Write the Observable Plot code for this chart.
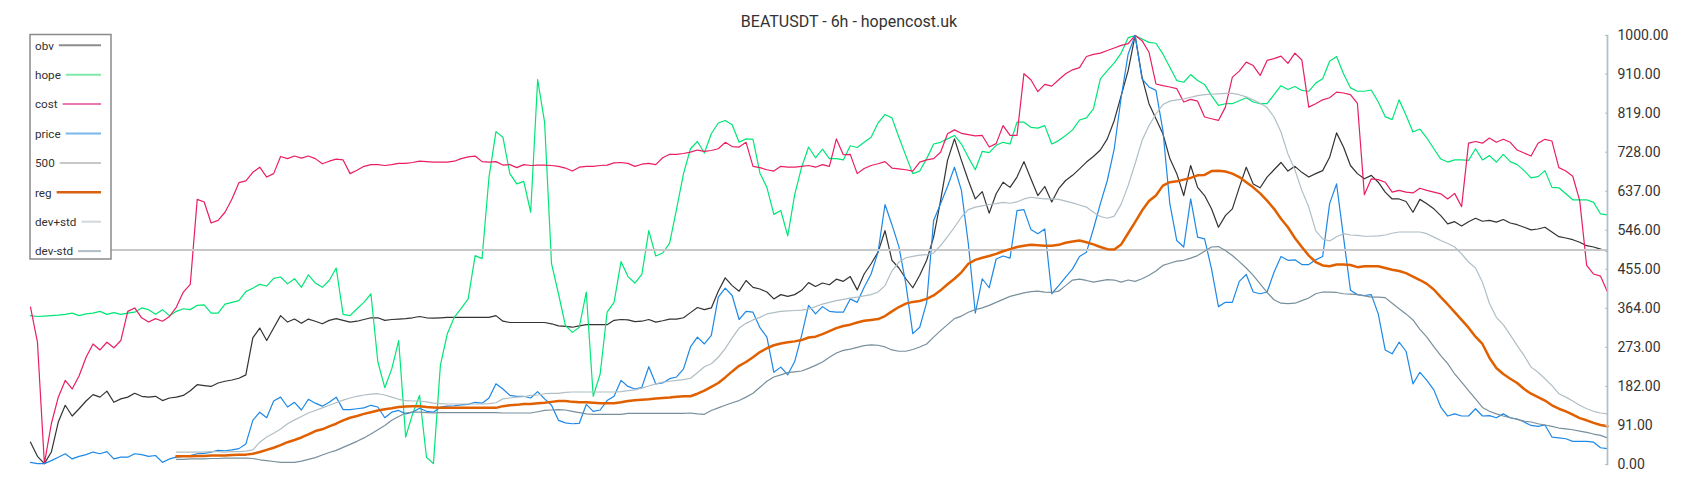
<!DOCTYPE html>
<html><head><meta charset="utf-8">
<script src="https://cdn.jsdelivr.net/npm/d3@7"></script>
<script src="https://cdn.jsdelivr.net/npm/@observablehq/plot@0.6"></script>
<style>
html,body{margin:0;padding:0;background:#fff;}
#chart{position:relative;width:1700px;height:500px;font-family:Roboto,sans-serif;}
</style></head><body><div id="chart"></div>
<script>
const title = "BEATUSDT - 6h - hopencost.uk";
const seriesNames = ["obv","hope","cost","price","500","reg","dev+std","dev-std"];
const lineColors = ["#333333","#00e676","#e91e63","#1e88e5","#c8c8c8","#e06000","#b0bec5","#78909c"];
const legendColors = ["#8c8c8c","#80e8a8","#e878b0","#78b8ec","#c8c8c8","#d86010","#d0d8dc","#b0bcc4"];
const yTicks = [0,91,182,273,364,455,546,637,728,819,910,1000];
const level = 500;

const obv = [52,19,2,29,99,138,113,130,148,163,157,171,145,153,157,166,159,157,159,149,
155,157,161,172,186,184,182,190,194,197,201,209,295,318,289,318,347,332,339,329,
339,334,328,336,340,336,332,334,338,342,342,336,338,339,340,342,345,342,341,342,
343,343,343,343,343,343,343,347,334,331,331,331,331,331,331,328,323,322,320,323,
326,326,326,326,336,338,337,333,334,338,332,335,339,339,342,354,366,361,365,404,
435,417,404,429,413,409,402,386,396,392,396,406,424,415,423,419,432,427,438,407,
444,468,495,545,476,458,433,412,441,476,530,615,709,759,709,662,619,636,586,631,
658,646,670,706,666,627,648,612,643,662,674,689,705,718,733,759,802,860,918,1000,
903,841,806,771,713,678,627,697,646,627,596,553,580,596,646,693,654,645,670,687,
704,684,695,681,670,678,685,716,773,740,697,678,666,674,658,635,619,619,613,588,
618,608,596,580,561,566,556,566,574,567,569,565,571,563,559,553,547,549,553,542,
531,528,524,518,510,507,502,497];

const hope = [347,345,346,347,348,350,353,347,351,353,357,350,354,350,353,355,365,361,350,361,
347,357,363,361,371,372,353,353,374,378,382,403,411,420,416,434,437,421,433,413,
442,423,413,429,458,350,347,363,378,398,239,179,223,289,64,118,161,17,2,231,
305,343,364,386,487,480,670,776,763,678,654,660,588,897,798,468,398,324,308,320,
402,159,211,355,378,473,438,423,443,545,486,493,516,596,678,736,753,726,771,796,
802,792,751,759,758,679,646,583,592,533,629,693,740,715,735,713,713,710,743,739,
751,763,796,816,808,763,720,678,684,713,747,751,759,767,747,716,687,730,727,744,
751,747,798,798,786,784,790,747,755,767,780,803,808,829,899,918,936,959,995,1000,
992,984,982,957,926,895,891,909,895,886,860,837,841,841,848,855,845,841,841,862,
883,874,881,872,870,889,899,940,951,911,878,870,870,873,845,811,804,850,814,775,
782,761,736,712,705,710,710,709,736,710,720,705,723,706,699,685,668,671,685,646,
645,631,617,617,617,611,584,582];

const cost = [367,285,2,95,157,196,176,207,250,281,267,285,272,289,357,365,342,332,340,334,
345,367,402,420,618,612,563,569,588,619,657,661,681,693,670,678,718,713,719,714,
719,713,701,707,712,710,678,686,695,699,699,697,699,702,702,704,707,706,705,705,
705,707,713,717,719,706,705,706,698,699,692,699,697,698,698,697,695,691,684,693,
695,695,697,698,703,704,702,695,700,702,699,715,723,723,725,728,733,730,732,736,
751,741,740,751,695,692,687,684,695,693,693,695,697,693,699,695,759,722,723,678,
690,697,701,706,691,689,687,684,705,710,713,728,771,780,772,769,766,767,740,748,
790,767,767,911,897,869,886,882,897,911,920,925,951,956,959,965,971,977,981,1000,
988,961,887,883,880,876,845,851,847,810,806,802,833,903,917,938,930,907,942,946,
952,935,959,943,833,841,850,855,868,866,862,842,629,666,664,658,635,639,635,633,
644,639,635,631,619,632,601,749,753,749,761,751,758,751,733,726,719,749,758,754,
692,684,672,615,464,444,439,402];

const price = [5,2,2,9,17,25,13,19,23,29,25,30,13,17,17,25,23,19,21,5,
13,17,19,21,25,26,29,33,32,34,37,48,103,122,109,148,157,134,145,127,
152,143,136,145,157,128,128,130,132,138,134,109,122,126,118,122,131,124,122,134,
136,137,139,140,145,143,155,188,176,161,159,159,155,170,153,138,103,97,95,96,
140,124,127,149,159,196,182,176,180,228,188,190,200,204,223,274,297,281,301,390,
411,394,338,357,355,319,297,215,227,209,240,301,371,351,368,357,355,355,386,378,
413,444,495,606,559,508,421,305,320,378,569,608,648,693,639,514,353,433,412,479,
486,481,592,594,548,538,549,398,417,437,456,485,495,549,608,662,736,856,957,1000,
899,880,872,779,608,522,507,619,530,526,456,368,378,378,427,443,402,398,402,448,
485,476,477,466,466,477,485,608,654,530,406,396,394,396,351,267,258,285,264,188,
215,196,174,134,113,118,113,113,130,113,114,109,118,109,106,99,91,89,92,64,
62,60,54,54,54,52,39,37];

const reg = [null,null,null,null,null,null,null,null,null,null,null,null,null,null,null,null,null,null,null,null,
null,19,19,19,20,20,21,21,21,22,23,23,25,29,34,39,45,52,57,63,
70,78,82,89,95,103,109,113,118,122,126,129,131,134,135,136,136,134,133,132,
132,132,132,132,132,132,132,132,136,138,139,141,141,143,144,146,148,148,146,145,
145,144,143,143,143,145,148,150,151,152,154,155,156,158,159,159,165,172,181,190,
203,217,230,239,250,262,271,278,282,285,287,290,296,298,304,311,318,323,326,331,
335,337,339,346,357,367,375,379,381,386,394,406,420,433,448,468,477,482,486,491,
497,502,507,510,512,511,510,510,512,517,520,522,518,513,507,502,501,513,539,565,
592,614,627,650,658,660,664,668,674,675,684,685,683,678,670,658,646,632,615,596,
573,553,528,507,487,472,464,462,466,466,465,460,462,462,462,458,454,451,446,438,
430,421,408,390,373,355,337,319,298,281,249,225,211,200,190,176,165,157,149,138,
130,124,116,108,103,97,92,89];

const devPlus = [null,null,null,null,null,null,null,null,null,null,null,null,null,null,null,null,null,null,null,null,
null,29,29,29,29,29,30,30,29,30,30,31,34,52,64,73,83,95,104,112,
120,126,132,138,144,150,155,159,162,164,165,162,157,152,149,148,148,146,143,142,
141,141,141,141,141,141,142,144,153,155,157,158,161,162,165,166,166,168,169,169,
169,169,169,169,169,170,172,174,178,183,188,192,194,196,198,201,214,228,235,250,
270,295,318,329,337,343,351,354,357,358,359,360,362,368,374,378,382,385,388,390,
393,396,402,417,451,472,482,485,488,489,493,510,531,553,577,594,600,603,606,608,
611,609,612,619,623,621,619,619,618,614,610,605,600,588,578,574,579,607,650,701,
755,790,817,839,847,850,852,856,860,862,863,864,865,865,862,857,850,842,832,810,
775,724,687,639,600,545,526,521,531,538,535,534,532,532,533,535,539,542,542,542,
542,538,530,522,515,507,491,472,458,425,376,343,326,302,277,254,227,215,200,184,
165,157,148,138,130,124,120,118];

const devMinus = [null,null,null,null,null,null,null,null,null,null,null,null,null,null,null,null,null,null,null,null,
null,12,12,13,13,13,14,14,15,15,15,15,14,11,9,7,5,5,5,8,
12,16,22,28,33,40,47,54,62,71,81,91,103,112,120,122,122,121,120,121,
121,121,121,121,121,121,121,121,120,120,120,120,120,123,126,127,128,127,124,121,
118,117,117,117,117,117,119,119,119,119,119,119,119,119,119,120,118,117,126,132,
138,144,149,157,166,180,194,204,209,214,216,218,224,231,239,250,260,266,269,273,
277,279,278,274,267,264,264,268,274,281,297,312,326,340,346,355,361,365,371,378,
385,392,396,400,403,404,402,401,404,417,430,432,429,425,428,431,430,425,430,427,
433,441,451,464,469,474,476,481,487,497,507,508,499,487,473,458,441,421,401,384,
376,375,376,382,388,398,402,402,401,398,397,396,393,390,390,389,376,363,351,337,
315,297,275,254,235,211,192,172,153,133,124,118,113,109,105,101,99,95,92,89,
85,83,81,78,75,71,68,62];

const thin = 1.2;
const lineOpts = (k, w) => ({stroke: lineColors[k], strokeWidth: w, strokeLinejoin: "round"});

const chart = Plot.plot({
  width: 1700, height: 500,
  marginLeft: 30, marginRight: 93, marginTop: 35, marginBottom: 36,
  style: {fontFamily: "Roboto, sans-serif", background: "white", overflow: "visible"},
  x: {domain: [0, obv.length - 1], axis: null},
  y: {domain: [0, 1000], axis: null},
  marks: [
    Plot.lineY(obv, lineOpts(0, thin)),
    Plot.lineY(hope, lineOpts(1, thin)),
    Plot.lineY(cost, lineOpts(2, thin)),
    Plot.lineY(price, lineOpts(3, thin)),
    Plot.ruleY([level], {stroke: lineColors[4], strokeWidth: 2}),
    Plot.lineY(reg, lineOpts(5, 2.5)),
    Plot.lineY(devPlus, lineOpts(6, thin)),
    Plot.lineY(devMinus, lineOpts(7, thin)),
    Plot.frame({anchor: "right", stroke: "#b0bec5", strokeWidth: 1.7}),
    Plot.axisY({anchor: "right", ticks: yTicks, tickFormat: d => d.toFixed(2),
      tickSize: -3, tickPadding: 13, stroke: "#b0bec5", fill: "#333", fontSize: 14, label: null})
  ]
});
document.getElementById("chart").appendChild(chart);

const svg = d3.select(chart);
svg.append("text")
  .attr("x", 849).attr("y", 27)
  .attr("text-anchor", "middle")
  .attr("fill", "#333")
  .style("font-family", "Roboto, sans-serif")
  .style("font-size", "16px")
  .text(title);

const lg = svg.append("g")
  .attr("text-anchor", "start")
  .style("font-family", "Roboto, sans-serif")
  .style("font-size", "11.7px");
lg.append("rect").attr("x", 30).attr("y", 34.5).attr("width", 81).attr("height", 224.5)
  .attr("fill", "white").attr("stroke", "#8a8a8a").attr("stroke-width", 1.5);
seriesNames.forEach((name, k) => {
  const cy = 45.3 + k * 29.4;
  const t = lg.append("text").attr("x", 35).attr("y", cy + 4.2)
    .attr("text-anchor", "start").attr("fill", "#333").text(name);
  const w = t.node().getComputedTextLength();
  lg.append("line").attr("x1", 35 + w + 5).attr("x2", 101).attr("y1", cy).attr("y2", cy)
    .attr("stroke", legendColors[k]).attr("stroke-width", k === 5 ? 2.5 : 2);
});
</script>
</body></html>
